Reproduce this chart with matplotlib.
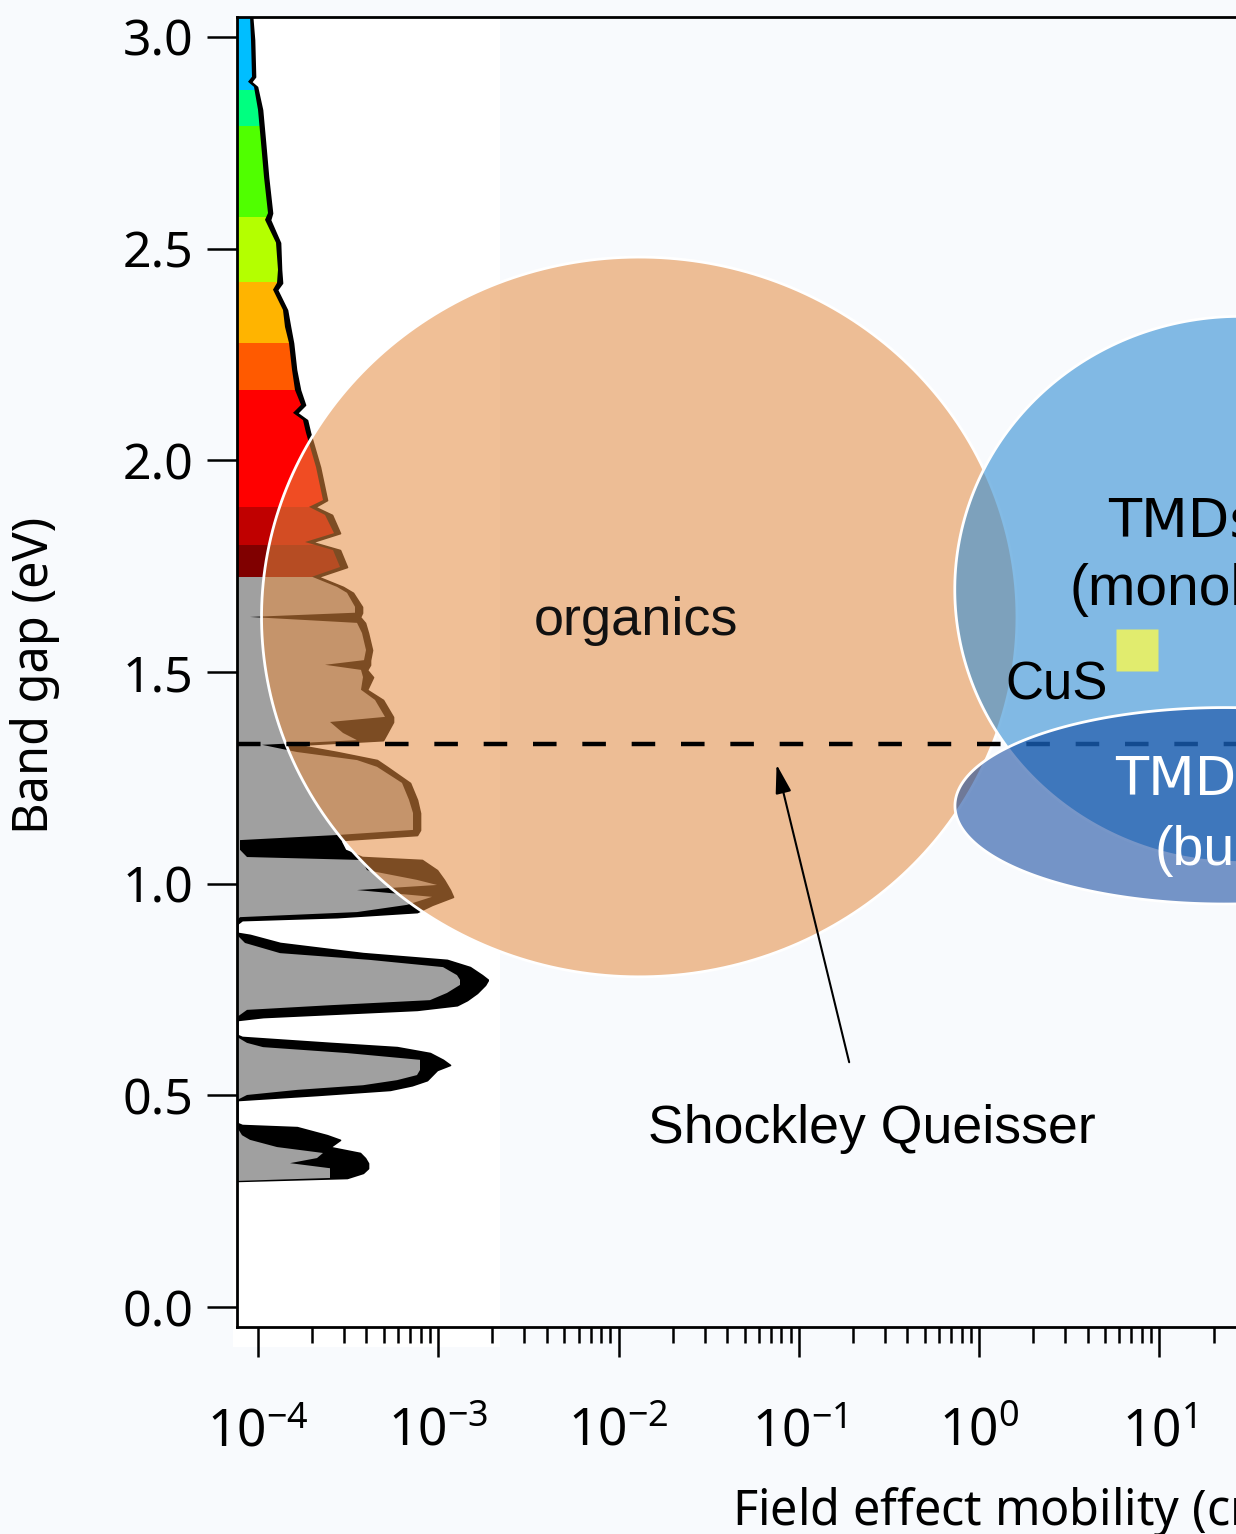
import numpy as np
import matplotlib.pyplot as plt
from matplotlib.patches import Polygon, Rectangle
from matplotlib.ticker import LogLocator, FixedLocator, FuncFormatter, NullFormatter, FormatStrFormatter

plt.rcParams['font.family'] = ['Noto Sans', 'DejaVu Sans']
plt.rcParams['mathtext.fontset'] = 'custom'
plt.rcParams['mathtext.rm'] = 'Noto Sans'
plt.rcParams['mathtext.default'] = 'regular'

# solar spectrum vs photon energy (eV); outer = black envelope, inner = coloured fill (arb. units)
energy = np.array([
    3.05, 2.993, 2.906, 2.894, 2.882, 2.828, 2.750, 2.669, 2.584, 2.568,
    2.514, 2.450, 2.419, 2.403, 2.355, 2.315, 2.277, 2.214, 2.166, 2.131,
    2.112, 2.095, 2.065, 1.984, 1.906, 1.890, 1.871, 1.828, 1.807, 1.788,
    1.748, 1.725, 1.701, 1.687, 1.654, 1.640, 1.630, 1.616, 1.592, 1.552,
    1.528, 1.517, 1.505, 1.488, 1.458, 1.434, 1.394, 1.382, 1.356, 1.339,
    1.328, 1.311, 1.292, 1.276, 1.238, 1.198, 1.167, 1.127, 1.115, 1.103,
    1.080, 1.063, 1.056, 1.032, 1.009, 0.997, 0.985, 0.969, 0.950, 0.933,
    0.921, 0.914, 0.905, 0.884, 0.879, 0.860, 0.836, 0.820, 0.803, 0.784,
    0.773, 0.761, 0.742, 0.725, 0.713, 0.702, 0.685, 0.678, 0.643, 0.638,
    0.624, 0.614, 0.600, 0.584, 0.572, 0.560, 0.548, 0.536, 0.524, 0.513,
    0.501, 0.489, 0.435, 0.430, 0.425, 0.406, 0.395, 0.378, 0.364, 0.352,
    0.340, 0.328, 0.317, 0.305, 0.298])
flux_outer = np.array([
    15, 17, 18, 14, 20, 25, 28, 31, 35, 33,
    43, 44, 45, 40, 50, 53, 56, 59, 63, 68,
    60, 70, 73, 83, 90, 78, 95, 103, 75, 103,
    110, 81, 106, 116, 125, 125, 123, 128, 131, 135,
    133, 133, 130, 136, 130, 146, 156, 156, 150, 146,
    60, 100, 140, 150, 173, 180, 183, 183, 180, 103,
    108, 125, 185, 200, 207, 210, 213, 216, 195, 180,
    100, 5, 0, 0, 13, 43, 126, 210, 233, 245,
    251, 248, 240, 230, 220, 180, 26, 0, 0, 5,
    93, 160, 193, 206, 213, 200, 195, 190, 175, 153,
    80, 0, 0, 5, 60, 90, 103, 93, 123, 128,
    131, 131, 126, 110, 0])
flux_inner = np.array([
    13, 14, 15, 11, 17, 21, 24, 27, 31, 28,
    39, 41, 40, 36, 46, 48, 52, 55, 58, 64,
    56, 66, 69, 79, 86, 72, 88, 97, 68, 96,
    103, 75, 100, 110, 118, 118, 13, 120, 125, 129,
    127, 88, 124, 126, 124, 138, 148, 93, 106, 120,
    25, 60, 120, 140, 165, 172, 176, 176, 100, 3,
    3, 10, 125, 130, 180, 200, 120, 195, 170, 120,
    3, 0, 0, 0, 0, 8, 43, 133, 206, 220,
    223, 223, 210, 193, 93, 10, 0, 0, 0, 0,
    10, 26, 110, 183, 183, 183, 180, 160, 126, 60,
    10, 0, 0, 0, 0, 5, 13, 40, 86, 80,
    53, 93, 93, 93, 0])

band_edges = [0.0, 1.725, 1.80, 1.89, 2.166, 2.277, 2.42, 2.575, 2.79, 2.875, 3.2]
band_colors = ['#a0a0a0', '#800000', '#c00000', '#ff0000', '#ff5a00', '#ffb400',
               '#b4ff00', '#50ff00', '#00ff80', '#00beff']

# material regions: (mobility low, mobility high) in cm^2/Vs, (gap low, gap high) in eV
organics_mob = (10 ** -3.98, 10 ** 0.21)
organics_gap = (0.78, 2.48)
tmd_mono_mob = (10 ** -0.135, 10 ** 3.03)
tmd_mono_gap = (1.05, 2.34)
tmd_bulk_mob = (10 ** -0.134, 10 ** 2.86)
tmd_bulk_gap = (0.952, 1.416)
cus_mob = 10 ** 0.875
cus_gap = 1.552
sq_gap = 1.33

fig = plt.figure(figsize=(12.36, 15.34), dpi=100, facecolor='#f8fafd')
fig.add_artist(Rectangle((233 / 1236, 187 / 1534), 267 / 1236, 1330 / 1534,
                         transform=fig.transFigure, facecolor='white',
                         edgecolor='none', zorder=-1))

ax = fig.add_axes([237 / 1236, 207 / 1534, 1283 / 1236, 1310 / 1534])
ax.set_facecolor('none')
ax.set_xscale('log')
ax.set_xlim(10 ** -4.116, 10 ** 3)
ax.set_ylim(-0.047, 3.047)

# spectrum drawn in its own linear inset along the left edge
ax_spec = ax.inset_axes([0, 0, 251 / 1283, 1], zorder=0.5)
ax_spec.set_xlim(0, 251)
ax_spec.set_ylim(ax.get_ylim())
ax_spec.axis('off')
ax_spec.patch.set_visible(False)
ax_spec.fill_betweenx(energy, 0, flux_outer, color='black', lw=1.2)
inner_poly = Polygon(np.column_stack([np.r_[flux_inner, np.zeros_like(flux_inner)],
                                      np.r_[energy, energy[::-1]]]),
                     closed=True, facecolor='none', edgecolor='none')
ax_spec.add_patch(inner_poly)
for lo, hi, c in zip(band_edges[:-1], band_edges[1:], band_colors):
    span = ax_spec.axhspan(lo, hi, facecolor=c, edgecolor='none')
    span.set_clip_path(inner_poly)


def region(mob, gap, n=300):
    t = np.linspace(0, 2 * np.pi, n)
    lx = np.log10(mob)
    cx, rx = lx.mean(), (lx[1] - lx[0]) / 2
    cy, ry = np.mean(gap), (gap[1] - gap[0]) / 2
    return 10 ** (cx + rx * np.cos(t)), cy + ry * np.sin(t)


x, y = region(organics_mob, organics_gap)
ax.fill(x, y, facecolor=(0.894, 0.545, 0.251, 0.55), edgecolor='white', lw=2, zorder=1)

ax.axhline(sq_gap, color='black', lw=3.2, dashes=(5.3, 5.8), zorder=1.5)

x, y = region(tmd_mono_mob, tmd_mono_gap)
ax.fill(x, y, facecolor=(0.22, 0.57, 0.835, 0.62), edgecolor='white', lw=2, zorder=1.6)
x, y = region(tmd_bulk_mob, tmd_bulk_gap)
ax.fill(x, y, facecolor=(0.03, 0.255, 0.61, 0.55), edgecolor='white', lw=2, zorder=1.7)

ax.plot([cus_mob], [cus_gap], marker='s', ms=30, color='#e1ec6e', mec='none', zorder=2.5)

ann_font = ['Liberation Sans', 'DejaVu Sans']
tmd_font = ['DejaVu Sans']
ax.text(10 ** -1.903, 1.5875, 'organics', ha='center', va='baseline', fontsize=39,
        family=ann_font, color='#111111', zorder=3)
ax.text(10 ** 0.714, 1.819, 'TMDs', ha='left', va='baseline', fontsize=39,
        family=tmd_font, color='black', zorder=3)
ax.text(10 ** 0.504, 1.658, '(monolayer)', ha='left', va='baseline', fontsize=41,
        family=ann_font, color='black', zorder=3)
ax.text(10 ** 0.143, 1.434, 'CuS', ha='left', va='baseline', fontsize=38,
        family=ann_font, color='black', zorder=3)
ax.text(10 ** 0.753, 1.2095, 'TMDs', ha='left', va='baseline', fontsize=39,
        family=tmd_font, color='white', zorder=3)
ax.text(10 ** 0.975, 1.044, '(bulk)', ha='left', va='baseline', fontsize=40,
        family=ann_font, color='white', zorder=3)
ax.text(10 ** -1.837, 0.387, 'Shockley Queisser', ha='left', va='baseline', fontsize=38.6,
        family=ann_font, color='black', zorder=3)
ax.annotate('', xy=(10 ** -1.127, 1.288), xytext=(10 ** -0.717, 0.572),
            arrowprops=dict(arrowstyle='-|>,head_length=0.8,head_width=0.22',
                            color='black', lw=1.5, mutation_scale=22), zorder=3)

for s in ax.spines.values():
    s.set_linewidth(2)

minor_ticks = [m * 10.0 ** k for k in range(-4, 3) for m in range(2, 10)]
ax.xaxis.set_major_locator(LogLocator(base=10, numticks=20))
ax.xaxis.set_minor_locator(FixedLocator(minor_ticks))
ax.xaxis.set_major_formatter(FuncFormatter(lambda v, _: f'$10^{{{int(round(np.log10(v)))}}}$'))
ax.xaxis.set_minor_formatter(NullFormatter())
ax.tick_params(axis='x', which='major', length=21.6, width=1.8, pad=36, labelsize=37)
ax.tick_params(axis='x', which='minor', length=11.5, width=1.8)

ax.set_yticks(np.arange(0, 3.01, 0.5))
ax.yaxis.set_major_formatter(FormatStrFormatter('%.1f'))
ax.tick_params(axis='y', length=21.6, width=1.8, pad=10, labelsize=36)

ax.set_ylabel('Band gap (eV)', fontsize=35)
ax.yaxis.set_label_coords(-0.138, 0.4977)
ax.set_xlabel('Field effect mobility (cm$^2$/Vs)', fontsize=35, ha='left')
ax.xaxis.set_label_coords(0.3858, -0.1168)

fig.savefig('out.png', dpi=100, facecolor=fig.get_facecolor())
